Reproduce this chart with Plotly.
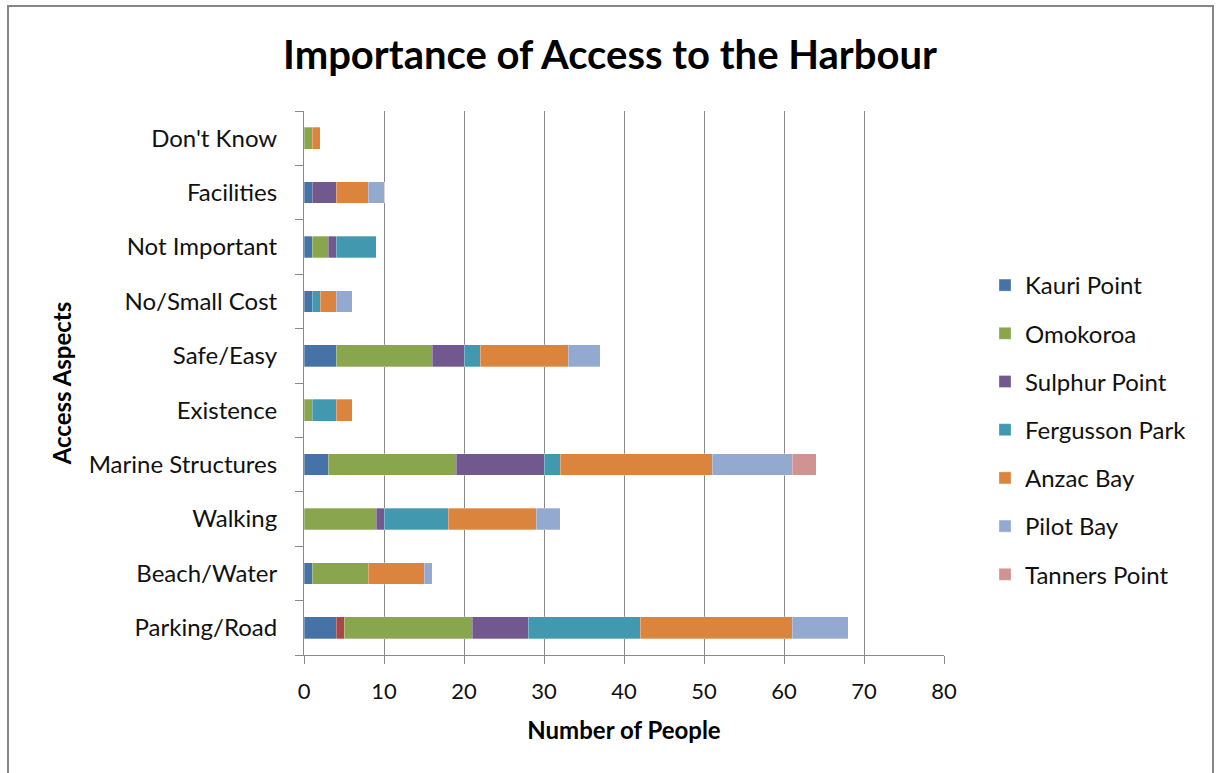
import plotly.graph_objects as go

categories = ["Parking/Road", "Beach/Water", "Walking", "Marine Structures", "Existence",
              "Safe/Easy", "No/Small Cost", "Not Important", "Facilities", "Don't Know"]

kauri_point    = [4, 1, 0, 3, 0, 4, 1, 1, 1, 0]
unlabelled     = [1, 0, 0, 0, 0, 0, 0, 0, 0, 0]
omokoroa       = [16, 7, 9, 16, 1, 12, 0, 2, 0, 1]
sulphur_point  = [7, 0, 1, 11, 0, 4, 0, 1, 3, 0]
fergusson_park = [14, 0, 8, 2, 3, 2, 1, 5, 0, 0]
anzac_bay      = [19, 7, 11, 19, 2, 11, 2, 0, 4, 1]
pilot_bay      = [7, 1, 3, 10, 0, 4, 2, 0, 2, 0]
tanners_point  = [0, 0, 0, 3, 0, 0, 0, 0, 0, 0]

series = [
    ("Kauri Point", kauri_point, "#4572A7", True),
    ("Other", unlabelled, "#AA4643", False),
    ("Omokoroa", omokoroa, "#89A54E", True),
    ("Sulphur Point", sulphur_point, "#71588F", True),
    ("Fergusson Park", fergusson_park, "#4198AF", True),
    ("Anzac Bay", anzac_bay, "#DB843D", True),
    ("Pilot Bay", pilot_bay, "#93A9CF", True),
    ("Tanners Point", tanners_point, "#D19392", True),
]

FONT = "Lato"
fig = go.Figure()
for name, vals, color, show in series:
    fig.add_trace(go.Bar(
        y=categories, x=vals, name=name, orientation="h",
        marker=dict(color=color, line=dict(color="rgba(255,255,255,0.6)", width=0.5)),
        showlegend=show, legendgroup=name,
    ))

L, R, T, B = 304, 274, 111, 118
W, H = 1218, 773
pw, ph = W - L - R, H - T - B

def px(x):
    return (x - L) / pw

def py(y):
    return (H - B - y) / ph

fig.update_layout(
    width=W, height=H,
    margin=dict(l=L, r=R, t=T, b=B, autoexpand=False),
    barmode="stack", bargap=0.6,
    paper_bgcolor="white", plot_bgcolor="white",
    font=dict(family=FONT, color="#000000", size=20),
    title=dict(text="<b>Importance of Access to the Harbour</b>",
               x=610 / W, xanchor="center", xref="container",
               y=1 - 55 / H, yanchor="middle",
               font=dict(family=FONT, size=40, color="#000")),
    xaxis=dict(range=[0, 80], dtick=10, tick0=0,
               showgrid=True, gridcolor="#8A8A8A", gridwidth=1,
               showline=True, linecolor="#8A8A8A", linewidth=1,
               ticks="outside", ticklen=8, tickcolor="#8A8A8A",
               ticklabelstandoff=9,
               zeroline=False, fixedrange=True,
               tickfont=dict(size=22, family=FONT, color="#111"),
               title=dict(text="<b>Number of People</b>", standoff=18,
                          font=dict(size=24, family=FONT))),
    yaxis=dict(type="category", categoryorder="array", categoryarray=categories,
               showline=True, linecolor="#8A8A8A", linewidth=1,
               ticks="outside", ticklen=8, tickcolor="#8A8A8A",
               tickson="boundaries", ticklabelstandoff=21,
               tickfont=dict(size=24, family=FONT, color="#111"),
               title=dict(text="<b>Access Aspects</b>", standoff=10,
                          font=dict(size=24, family=FONT))),
    legend=dict(x=px(985), xanchor="left", y=py(430), yanchor="middle",
                traceorder="grouped", tracegroupgap=14,
                font=dict(size=24, family=FONT, color="#111"),
                bgcolor="rgba(0,0,0,0)"),
    shapes=[dict(type="rect", xref="paper", yref="paper",
                 x0=px(8), x1=px(1213), y0=py(6), y1=py(780),
                 line=dict(color="#868686", width=2), fillcolor="rgba(0,0,0,0)", layer="below")],
)

fig.write_html("out.html")
